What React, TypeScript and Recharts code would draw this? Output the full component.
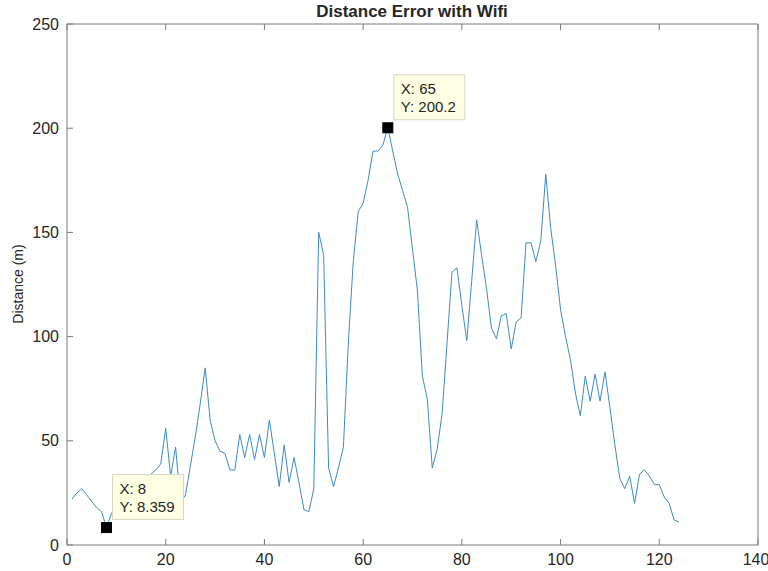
import { LineChart, Line, XAxis, YAxis, ReferenceDot, Customized } from "recharts";

// Distance error per sample (x = sample index 1..124).
const distance = [
  22, 25, 27, 24, 21, 18, 16, 8.359, 15, 19,
  21, 24, 26, 27, 30, 32, 34, 36, 39, 56,
  33, 47, 20, 24, 38, 52, 68, 85, 60, 50,
  45, 44, 36, 36, 53, 42, 53, 41, 53, 42,
  60, 44, 28, 48, 30, 42, 30, 17, 16, 27,
  150, 139, 37, 28, 37, 47, 97, 136, 160, 164,
  175, 189, 189, 192, 200.2, 189, 178, 170, 162, 142,
  122, 81, 70, 37, 46, 63, 97, 131, 133, 115,
  98, 127, 156, 139, 123, 104, 99, 110, 111, 94,
  107, 109, 145, 145, 136, 146, 178, 152, 134, 113,
  100, 89, 73, 62, 81, 69, 82, 69, 83, 66,
  48, 32, 27, 33, 20, 34, 36, 33, 29, 29,
  23, 20, 12, 11,
];

const xTicks = [0, 20, 40, 60, 80, 100, 120, 140];
const yTicks = [0, 50, 100, 150, 200, 250];

// MATLAB data tips shown on the figure
const dataTips = [
  { x: 8, y: 8.359, label: ["X: 8", "Y: 8.359"] },
  { x: 65, y: 200.2, label: ["X: 65", "Y: 200.2"] },
];

const data = distance.map((d, i) => ({ x: i + 1, d }));

const FONT = "'Liberation Sans', Arial, sans-serif";
const AXIS = "#7a7a7a";
const TEXT = "#262626";

function DataTip(props: any) {
  const { cx, cy, label } = props;
  if (cx == null || cy == null) return null;
  const bx = cx + 6;
  const by = cy - 53;
  return (
    <g>
      <rect x={bx} y={by} width={71} height={45} fill="#ffffe3" stroke="#d6d6c2" strokeWidth={1} />
      <text x={bx + 7} y={by + 19} fontSize={15} fontFamily={FONT} fill={TEXT}>
        {label[0]}
      </text>
      <text x={bx + 7} y={by + 37} fontSize={15} fontFamily={FONT} fill={TEXT}>
        {label[1]}
      </text>
      <rect x={cx - 5} y={cy - 5} width={10} height={10} fill="#000" stroke="#000" />
    </g>
  );
}

function Titles() {
  return (
    <g fontFamily={FONT} fill={TEXT}>
      <text x={412} y={17} textAnchor="middle" fontSize={17} fontWeight="bold">
        Distance Error with Wifi
      </text>
      <text
        x={23}
        y={284}
        textAnchor="middle"
        fontSize={14}
        transform="rotate(-90 23 284)"
      >
        Distance (m)
      </text>
    </g>
  );
}

export default function App() {
  return (
    <div style={{ position: "absolute", left: 0, top: 0, background: "#fff" }}>
      <LineChart
        width={768}
        height={571}
        data={data}
        margin={{ top: 23, right: 9, bottom: 0, left: 0 }}
      >
        <XAxis
          xAxisId={0}
          type="number"
          dataKey="x"
          domain={[0, 140]}
          ticks={xTicks}
          height={26}
          tickSize={-6}
          tickMargin={15}
          stroke={AXIS}
          tick={{ fill: TEXT, fontSize: 16, fontFamily: FONT }}
        />
        <XAxis
          xAxisId="top"
          orientation="top"
          type="number"
          dataKey="x"
          domain={[0, 140]}
          ticks={xTicks}
          height={1}
          tickSize={-6}
          tickFormatter={() => ""}
          stroke={AXIS}
        />
        <YAxis
          yAxisId={0}
          type="number"
          domain={[0, 250]}
          ticks={yTicks}
          width={67}
          tickSize={-6}
          tickMargin={14}
          stroke={AXIS}
          tick={{ fill: TEXT, fontSize: 16, fontFamily: FONT }}
        />
        <YAxis
          yAxisId="right"
          orientation="right"
          type="number"
          domain={[0, 250]}
          ticks={yTicks}
          width={1}
          tickSize={-6}
          tickFormatter={() => ""}
          stroke={AXIS}
        />
        <Line
          xAxisId={0}
          yAxisId={0}
          type="linear"
          dataKey="d"
          stroke="#3a8bc9"
          strokeWidth={1}
          dot={false}
          isAnimationActive={false}
        />
        {dataTips.map((t) => (
          <ReferenceDot
            key={t.x}
            xAxisId={0}
            yAxisId={0}
            x={t.x}
            y={t.y}
            r={5}
            shape={(p: any) => <DataTip {...p} label={t.label} />}
          />
        ))}
        <Customized component={<Titles />} />
      </LineChart>
    </div>
  );
}
